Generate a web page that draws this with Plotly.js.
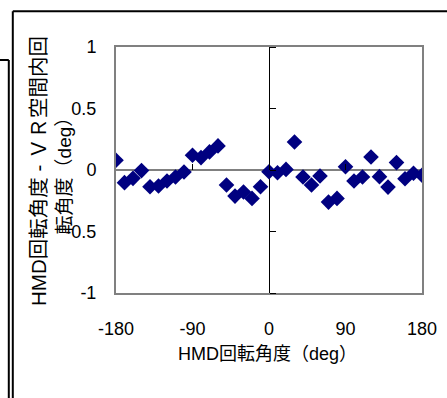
<!DOCTYPE html>
<html>
<head>
<meta charset="utf-8">
<script src="https://cdn.plot.ly/plotly-3.0.1.min.js"></script>
<style>
  html, body { margin: 0; padding: 0; background: #fff; }
  #chart { width: 447px; height: 398px; }
</style>
</head>
<body>
<div id="chart"></div>
<script>
// HMD rotation angle (deg)
const hmdAngle = [-180, -170, -160, -150, -140, -130, -120, -110, -100, -90,
  -80, -70, -60, -50, -40, -30, -20, -10, 0, 10, 20, 30, 40, 50, 60, 70, 80,
  90, 100, 110, 120, 130, 140, 150, 160, 170, 180];
// HMD rotation angle - VR space rotation angle (deg)
const angleDiff = [0.079, -0.103, -0.068, -0.005, -0.136, -0.130, -0.090, -0.057, -0.016, 0.120,
  0.101, 0.147, 0.196, -0.122, -0.212, -0.179, -0.231, -0.136, -0.014, -0.022, 0.005, 0.228, -0.057,
  -0.122, -0.049, -0.261, -0.231, 0.027, -0.090, -0.057, 0.106, -0.054, -0.139, 0.060, -0.071,
  -0.027, -0.043];

const xTickVals = [-180, -90, 0, 90, 180];
const xTickText = ['-180', '-90', '0', '90', '180'];
const yTickVals = [-1, -0.5, 0, 0.5, 1];
const yTickText = ['-1', '-0.5', '0', '0.5', '1'];

const xTitle = 'HMD回転角度（deg）';
const yTitleLine1 = 'HMD回転角度 - ＶＲ空間内回';
const yTitleLine2 = '転角度（deg）';

const W = 447, H = 398;
const M = {l: 116, r: 25, t: 47, b: 105};
const PW = W - M.l - M.r, PH = H - M.t - M.b;
const px = v => (v - M.l) / PW;
const py = v => (H - M.b - v) / PH;

const FONT = 'Liberation Sans, Arial, "Noto Sans CJK JP", sans-serif';

const traces = [
  {
    x: hmdAngle, y: angleDiff, type: 'scatter', mode: 'markers',
    marker: {symbol: 'diamond', size: 12, color: '#000080', line: {width: 0}},
    hoverinfo: 'x+y'
  },
  // empty trace to create the crossing tick-mark axes
  {x: [], y: [], type: 'scatter', mode: 'markers', xaxis: 'x2', yaxis: 'y2', hoverinfo: 'skip', showlegend: false}
];

const blackLine = {color: '#000', width: 2};
const layout = {
  width: W, height: H,
  margin: M,
  paper_bgcolor: '#fff', plot_bgcolor: '#fff',
  showlegend: false,
  font: {family: FONT, size: 18, color: '#000'},
  xaxis: {
    range: [-180, 180], tickvals: xTickVals, ticktext: xTickText,
    ticks: '', showgrid: false, showline: true, mirror: true,
    linecolor: '#808080', linewidth: 2,
    zeroline: true, zerolinecolor: '#000', zerolinewidth: 1,
    ticklabelstandoff: 18, fixedrange: true
  },
  yaxis: {
    range: [-1, 1], tickvals: yTickVals, ticktext: yTickText,
    ticks: '', showgrid: false, showline: true, mirror: true,
    linecolor: '#808080', linewidth: 2,
    zeroline: true, zerolinecolor: '#808080', zerolinewidth: 2,
    ticklabelstandoff: 14, fixedrange: true
  },
  xaxis2: {
    overlaying: 'x', anchor: 'free', position: 0.5, side: 'bottom',
    range: [-180, 180], tickvals: xTickVals, ticks: 'inside', ticklen: 6,
    tickcolor: '#000', tickwidth: 1, showticklabels: false,
    showgrid: false, zeroline: false, showline: false
  },
  yaxis2: {
    overlaying: 'y', anchor: 'free', position: 0.5, side: 'right',
    range: [-1, 1], tickvals: yTickVals, ticks: 'outside', ticklen: 6,
    tickcolor: '#000', tickwidth: 1, showticklabels: false,
    showgrid: false, zeroline: false, showline: false
  },
  annotations: [
    {
      text: xTitle, xref: 'paper', yref: 'paper', x: px(267), y: 0,
      xanchor: 'center', yanchor: 'middle', yshift: -61, showarrow: false,
      font: {family: FONT, size: 18, color: '#000'}
    },
    {
      text: '<span style="font-size:20.5px">' + yTitleLine1 + '</span><br>' + yTitleLine2,
      xref: 'paper', yref: 'paper', x: px(51), y: py(171),
      xanchor: 'center', yanchor: 'middle', textangle: -90, showarrow: false,
      align: 'center', font: {family: FONT, size: 19, color: '#000'}
    }
  ],
  shapes: [
    {type: 'line', xref: 'paper', yref: 'paper', x0: px(12.8), x1: px(448), y0: py(11.2), y1: py(11.2), line: blackLine},
    {type: 'line', xref: 'paper', yref: 'paper', x0: px(12.8), x1: px(12.8), y0: py(11.2), y1: py(400), line: blackLine},
    {type: 'line', xref: 'paper', yref: 'paper', x0: px(-1), x1: px(8.8), y0: py(60), y1: py(60), line: blackLine},
    {type: 'line', xref: 'paper', yref: 'paper', x0: px(8.8), x1: px(8.8), y0: py(60), y1: py(400), line: blackLine}
  ]
};

Plotly.newPlot('chart', traces, layout, {displayModeBar: false, staticPlot: true});
</script>
</body>
</html>
